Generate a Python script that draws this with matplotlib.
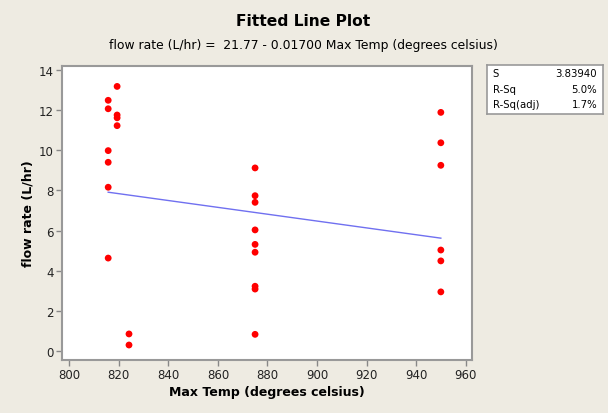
import matplotlib
matplotlib.use("Agg")
import matplotlib.pyplot as plt
import numpy as np

temp = [815.7, 815.7, 815.7, 815.7, 815.7, 815.7, 819.3, 819.3, 819.3, 819.3, 824.1, 824.1,
        875, 875, 875, 875, 875, 875, 875, 875, 875,
        950, 950, 950, 950, 950, 950]
flow = [12.47, 12.05, 9.97, 9.39, 8.15, 4.63, 13.16, 11.74, 11.60, 11.21, 0.86, 0.31,
        9.11, 7.73, 7.40, 6.03, 5.31, 4.92, 3.23, 3.09, 0.84,
        11.87, 10.36, 9.24, 5.03, 4.49, 2.95]
intercept = 21.77
slope = -0.01700
stats_labels = ["S", "R-Sq", "R-Sq(adj)"]
stats_values = ["3.83940", "5.0%", "1.7%"]
xticks = [800, 820, 840, 860, 880, 900, 920, 940, 960]
yticks = [0, 2, 4, 6, 8, 10, 12, 14]

bg = "#EEEBE2"
fig = plt.figure(figsize=(6.08, 4.14), dpi=100, facecolor=bg)
ax = fig.add_axes([62/608, 1-360.7/414, (472.3-62)/608, (360.7-67.3)/414])
ax.set_facecolor("white")

xs = np.array([min(temp), max(temp)])
ax.plot(xs, intercept + slope*xs, color="#7070F0", lw=1.0, zorder=2)
ax.scatter(temp, flow, s=24, color="#FF0000", edgecolors="none", zorder=3)

ax.set_xlim(797.05, 962.7)
ax.set_ylim(-0.42, 14.16)
ax.set_xticks(xticks)
ax.set_yticks(yticks)
ax.tick_params(direction="out", length=4, width=1, color="#888888", labelsize=8.5,
               labelcolor="#222222", pad=2)
for sp in ax.spines.values():
    sp.set_color("#999999")
    sp.set_linewidth(1.5)

ax.set_xlabel("Max Temp (degrees celsius)", fontsize=9, fontweight="bold", labelpad=3)
ax.set_ylabel("flow rate (L/hr)", fontsize=9, fontweight="bold", labelpad=3)

fig.text(303/608, 1-22/414, "Fitted Line Plot", ha="center", va="center",
         fontsize=11.2, fontweight="bold")
fig.text(303/608, 1-45/414, "flow rate (L/hr) =  21.77 - 0.01700 Max Temp (degrees celsius)",
         ha="center", va="center", fontsize=8.9)

# stats box
bx = fig.add_axes([487/608, 1-115/414, (603-487)/608, (115-66)/414])
bx.set_facecolor("white")
bx.set_xticks([]); bx.set_yticks([])
bx.set_xlim(0, 1); bx.set_ylim(0, 1)
for sp in bx.spines.values():
    sp.set_color("#999999")
    sp.set_linewidth(1.2)
for i, (lab, val) in enumerate(zip(stats_labels, stats_values)):
    yy = 0.83 - i*0.31
    bx.text(0.05, yy, lab, ha="left", va="center", fontsize=7.3)
    bx.text(0.95, yy, val, ha="right", va="center", fontsize=7.3)

fig.savefig("out.png", dpi=100, facecolor=bg)
